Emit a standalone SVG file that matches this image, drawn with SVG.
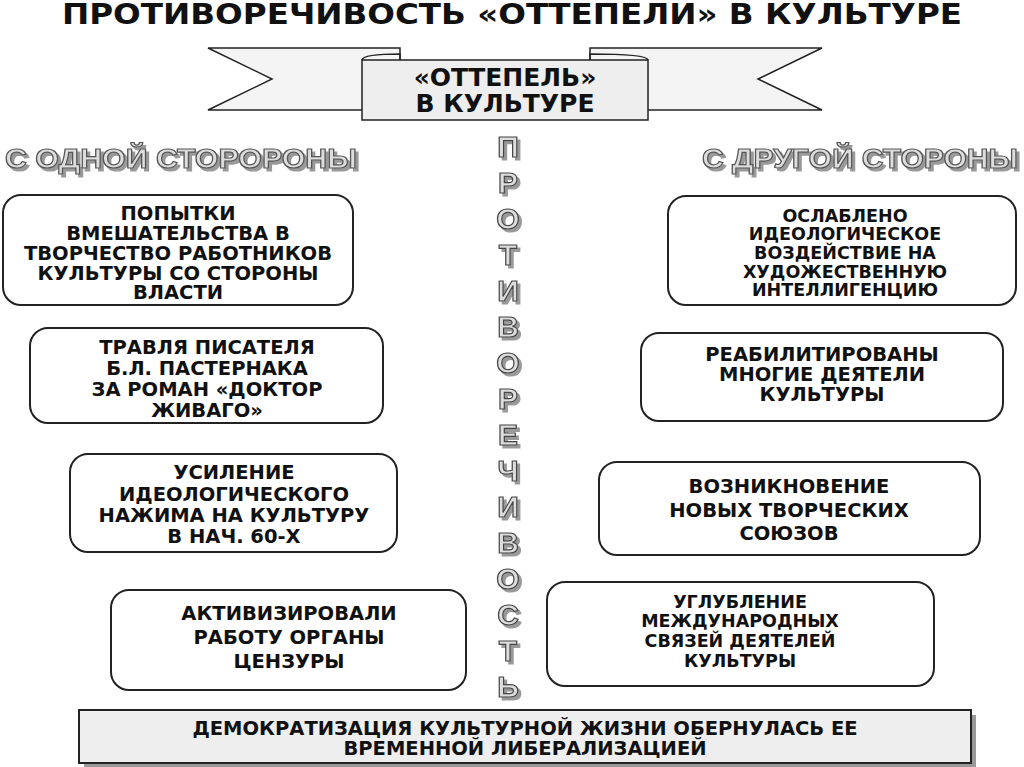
<svg xmlns="http://www.w3.org/2000/svg" width="1024" height="767" viewBox="0 0 1024 767">
<defs>
<filter id="ds" x="-5%" y="-20%" width="115%" height="150%">
<feOffset in="SourceAlpha" dx="3" dy="3" result="o"/>
<feFlood flood-color="#999"/>
<feComposite in2="o" operator="in" result="s"/>
<feMerge><feMergeNode in="s"/><feMergeNode in="SourceGraphic"/></feMerge>
</filter>
</defs>
<style>
.t{font-family:"DejaVu Sans",sans-serif;font-weight:bold;font-size:19.5px;text-anchor:middle;fill:#111}
.s{font-size:17.5px}
.box{fill:#fff;stroke:#222;stroke-width:2}
.hd{font-family:"Liberation Sans",sans-serif;font-weight:bold;font-size:28px;fill:#ddd;stroke:#555;stroke-width:1.2}
.v{font-family:"Liberation Sans",sans-serif;font-weight:bold;font-size:30px;text-anchor:middle;fill:#ddd;stroke:#444;stroke-width:1.2}
</style>
<rect width="1024" height="767" fill="#fff"/>
<text x="512" y="24" class="t" style="font-size:28px" textLength="900" lengthAdjust="spacingAndGlyphs">ПРОТИВОРЕЧИВОСТЬ «ОТТЕПЕЛИ» В КУЛЬТУРЕ</text>
<g id="banner">
<polygon points="208,48 400,48 400,110 208,110 272,79" fill="#f4f4f4" stroke="#222" stroke-width="1.5"/>
<polygon points="822,48 590,48 590,110 822,110 758,79" fill="#f4f4f4" stroke="#222" stroke-width="1.5"/>
<path d="M362,60 Q363,54 400,54 L400,62" fill="none" stroke="#222" stroke-width="1.5"/>
<path d="M648,60 Q647,54 590,54 L590,62" fill="none" stroke="#222" stroke-width="1.5"/>
<rect x="362" y="60" width="286" height="60" fill="#eee" stroke="#222" stroke-width="1.5"/>
<text x="505" y="86" class="t" style="font-size:25px">«ОТТЕПЕЛЬ»</text>
<text x="505" y="112" class="t" style="font-size:25px">В КУЛЬТУРЕ</text>
</g>
<g id="heads" filter="url(#ds)">
<text x="5" y="168" class="hd" textLength="352" lengthAdjust="spacingAndGlyphs">С ОДНОЙ СТОРОРОНЫ</text>
<text x="702" y="168" class="hd" textLength="316" lengthAdjust="spacingAndGlyphs">С ДРУГОЙ СТОРОНЫ</text>
</g>
<g id="vertical" filter="url(#ds)">
<text class="v"><tspan x="508" y="157">П</tspan><tspan x="508" y="193">Р</tspan><tspan x="508" y="229">О</tspan><tspan x="508" y="265">Т</tspan><tspan x="508" y="301">И</tspan><tspan x="508" y="337">В</tspan><tspan x="508" y="373">О</tspan><tspan x="508" y="409">Р</tspan><tspan x="508" y="445">Е</tspan><tspan x="508" y="481">Ч</tspan><tspan x="508" y="517">И</tspan><tspan x="508" y="553">В</tspan><tspan x="508" y="589">О</tspan><tspan x="508" y="625">С</tspan><tspan x="508" y="661">Т</tspan><tspan x="508" y="697">Ь</tspan></text>
</g>
<g id="L1"><rect x="3" y="195" width="350" height="110" rx="18" class="box"/>
<text class="t"><tspan x="178" y="220">ПОПЫТКИ</tspan><tspan x="178" y="240">ВМЕШАТЕЛЬСТВА В</tspan><tspan x="178" y="260">ТВОРЧЕСТВО РАБОТНИКОВ</tspan><tspan x="178" y="280">КУЛЬТУРЫ СО СТОРОНЫ</tspan><tspan x="178" y="299">ВЛАСТИ</tspan></text></g>
<g id="L2"><rect x="30" y="328" width="353" height="95" rx="18" class="box"/>
<text class="t"><tspan x="207" y="354">ТРАВЛЯ ПИСАТЕЛЯ</tspan><tspan x="207" y="375">Б.Л. ПАСТЕРНАКА</tspan><tspan x="207" y="396">ЗА РОМАН «ДОКТОР</tspan><tspan x="207" y="417">ЖИВАГО»</tspan></text></g>
<g id="L3"><rect x="70" y="454" width="327" height="98" rx="18" class="box"/>
<text class="t"><tspan x="234" y="479">УСИЛЕНИЕ</tspan><tspan x="234" y="501">ИДЕОЛОГИЧЕСКОГО</tspan><tspan x="234" y="522">НАЖИМА НА КУЛЬТУРУ</tspan><tspan x="234" y="543">В НАЧ. 60-Х</tspan></text></g>
<g id="L4"><rect x="111" y="590" width="355" height="100" rx="18" class="box"/>
<text class="t"><tspan x="289" y="620">АКТИВИЗИРОВАЛИ</tspan><tspan x="289" y="644">РАБОТУ ОРГАНЫ</tspan><tspan x="289" y="668">ЦЕНЗУРЫ</tspan></text></g>
<g id="R1"><rect x="668" y="196" width="348" height="109" rx="18" class="box"/>
<text class="t s"><tspan x="845" y="222">ОСЛАБЛЕНО</tspan><tspan x="845" y="240">ИДЕОЛОГИЧЕСКОЕ</tspan><tspan x="845" y="259">ВОЗДЕЙСТВИЕ НА</tspan><tspan x="845" y="278">ХУДОЖЕСТВЕННУЮ</tspan><tspan x="845" y="296">ИНТЕЛЛИГЕНЦИЮ</tspan></text></g>
<g id="R2"><rect x="641" y="333" width="362" height="88" rx="18" class="box"/>
<text class="t"><tspan x="822" y="361">РЕАБИЛИТИРОВАНЫ</tspan><tspan x="822" y="381">МНОГИЕ ДЕЯТЕЛИ</tspan><tspan x="822" y="401">КУЛЬТУРЫ</tspan></text></g>
<g id="R3"><rect x="599" y="462" width="381" height="93" rx="18" class="box"/>
<text class="t"><tspan x="789" y="493">ВОЗНИКНОВЕНИЕ</tspan><tspan x="789" y="517">НОВЫХ ТВОРЧЕСКИХ</tspan><tspan x="789" y="540">СОЮЗОВ</tspan></text></g>
<g id="R4"><rect x="547" y="582" width="387" height="104" rx="18" class="box"/>
<text class="t s"><tspan x="740" y="608">УГЛУБЛЕНИЕ</tspan><tspan x="740" y="627">МЕЖДУНАРОДНЫХ</tspan><tspan x="740" y="647">СВЯЗЕЙ ДЕЯТЕЛЕЙ</tspan><tspan x="740" y="667">КУЛЬТУРЫ</tspan></text></g>
<g id="bottom"><rect x="84" y="715" width="892" height="53" fill="#999"/><rect x="79" y="710" width="892" height="53" fill="#eee" stroke="#222" stroke-width="2"/>
<text class="t"><tspan x="525" y="735">ДЕМОКРАТИЗАЦИЯ КУЛЬТУРНОЙ ЖИЗНИ ОБЕРНУЛАСЬ ЕЕ</tspan><tspan x="525" y="755">ВРЕМЕННОЙ ЛИБЕРАЛИЗАЦИЕЙ</tspan></text></g>
</svg>
